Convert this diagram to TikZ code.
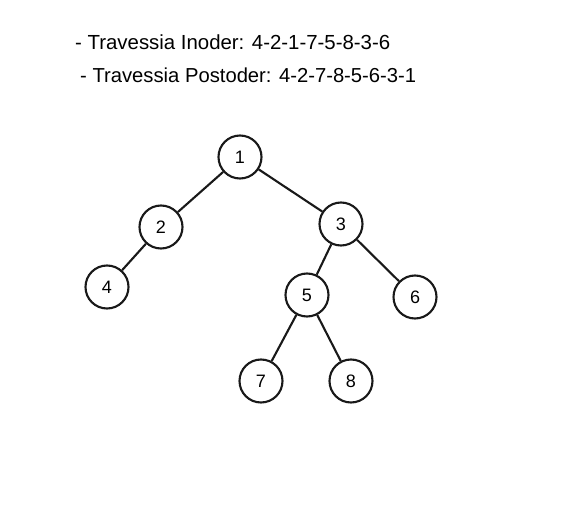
\documentclass[tikz,border=0pt]{standalone}
\usepackage{fontspec}
\setmainfont{Liberation Sans}
\begin{document}
\begin{tikzpicture}[x=1pt,y=-1pt,
  tnode/.style={circle,draw=black!90,line width=2.1pt,minimum size=43pt,inner sep=0pt,font=\fontsize{18}{18}\selectfont},
  edge/.style={draw=black!90,line width=2.1pt},
  caption/.style={anchor=west,inner sep=0pt,font=\fontsize{18}{18}\selectfont}]
\useasboundingbox[fill=white] (0,0) rectangle (586,510);
\node[caption] (t1) at (75,42) {\resizebox{315pt}{!}{- Travessia Inoder: 4-2-1-7-5-8-3-6}};
\node[caption] (t2) at (80,75) {\resizebox{336pt}{!}{- Travessia Postoder: 4-2-7-8-5-6-3-1}};
\node[tnode] (n1) at (240,157) {1};
\node[tnode] (n2) at (161,227) {2};
\node[tnode] (n3) at (341,224) {3};
\node[tnode] (n4) at (107,287) {4};
\node[tnode] (n5) at (307,295) {5};
\node[tnode] (n6) at (415,297) {6};
\node[tnode] (n7) at (261,381) {7};
\node[tnode] (n8) at (351,381) {8};
\draw[edge] (n1) -- (n2);
\draw[edge] (n1) -- (n3);
\draw[edge] (n2) -- (n4);
\draw[edge] (n3) -- (n5);
\draw[edge] (n3) -- (n6);
\draw[edge] (n5) -- (n7);
\draw[edge] (n5) -- (n8);
\end{tikzpicture}
\end{document}
